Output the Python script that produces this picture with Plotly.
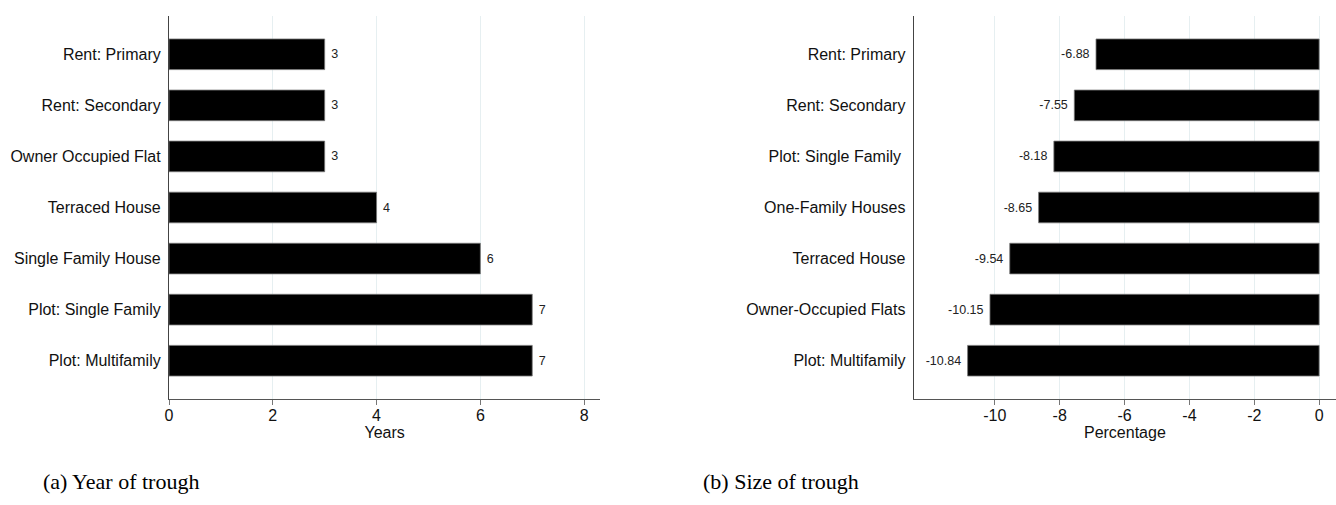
import plotly.graph_objects as go

# Panel (a): year of trough
cats_a = ["Rent: Primary", "Rent: Secondary", "Owner Occupied Flat", "Terraced House",
          "Single Family House", "Plot: Single Family", "Plot: Multifamily"]
years_a = [3, 3, 3, 4, 6, 7, 7]
ticks_a = [0, 2, 4, 6, 8]

# Panel (b): size of trough
cats_b = ["Rent: Primary", "Rent: Secondary", "Plot: Single Family\u00a0", "One-Family Houses",
          "Terraced House", "Owner-Occupied Flats", "Plot: Multifamily"]
pct_b = [-6.88, -7.55, -8.18, -8.65, -9.54, -10.15, -10.84]
ticks_b = [-10, -8, -6, -4, -2, 0]

W, H = 1336, 505
FONT = "Liberation Sans, Arial, sans-serif"
GRID = "#e6eff1"
NB = "\u00a0"

fig = go.Figure()

bar_style = dict(
    orientation="h",
    marker=dict(color="black", line=dict(color="#777777", width=0.8)),
    width=0.6,
    textposition="outside",
    cliponaxis=False,
    textfont=dict(family=FONT, size=12.5, color="#222222"),
    showlegend=False,
    hoverinfo="x+y",
)

fig.add_trace(go.Bar(x=years_a, y=list(range(len(cats_a))),
                     text=[NB + str(v) for v in years_a],
                     xaxis="x", yaxis="y", **bar_style))
fig.add_trace(go.Bar(x=pct_b, y=list(range(len(cats_b))),
                     text=[f"{v:.2f}" + NB for v in pct_b],
                     xaxis="x2", yaxis="y2", **bar_style))

y_top, y_bot = 16, 399
ydom = [1 - y_bot / H, 1 - y_top / H]

xaxis_common = dict(
    showline=True, linecolor="#555555", linewidth=1.2,
    ticks="outside", ticklen=5, tickcolor="#777777", tickwidth=1,
    showgrid=True, gridcolor=GRID, gridwidth=1,
    zeroline=False,
    tickfont=dict(family=FONT, size=16, color="#111111"),
    ticklabelstandoff=-3,
    title_font=dict(family=FONT, size=16, color="#111111"),
    title_standoff=0,
)
yaxis_common = dict(
    showline=True, linecolor="#444444", linewidth=1.2,
    ticks="", showgrid=False, zeroline=False,
    range=[6.75, -0.75],
    tickfont=dict(family=FONT, size=16, color="#111111"),
    ticklabelstandoff=4,
)

fig.update_layout(
    width=W, height=H,
    margin=dict(l=0, r=0, t=0, b=0),
    paper_bgcolor="white", plot_bgcolor="white",
    xaxis=dict(domain=[165.5 / W, 598 / W], range=[0, 8.31],
               tickvals=ticks_a, ticktext=[str(t) for t in ticks_a],
               title_text="Years", anchor="y", **xaxis_common),
    yaxis=dict(domain=ydom, anchor="x", tickvals=list(range(len(cats_a))), ticktext=cats_a,
               **yaxis_common),
    xaxis2=dict(domain=[912.5 / W, 1.0], range=[-12.5, 0.52],
                tickvals=ticks_b, ticktext=[str(t) for t in ticks_b],
                title_text="Percentage", anchor="y2", **xaxis_common),
    yaxis2=dict(domain=ydom, anchor="x2", tickvals=list(range(len(cats_b))), ticktext=cats_b,
                **yaxis_common),
)

cap_font = dict(family="Liberation Serif, Times New Roman, serif", size=22, color="black")
fig.add_annotation(text="(a) Year of trough", x=117 / W, y=1 - 481 / H, xref="paper", yref="paper",
                   showarrow=False, font=cap_font, xanchor="center", yanchor="middle")
fig.add_annotation(text="(b) Size of trough", x=779 / W, y=1 - 481 / H, xref="paper", yref="paper",
                   showarrow=False, font=cap_font, xanchor="center", yanchor="middle")

fig.write_html("out.html")
